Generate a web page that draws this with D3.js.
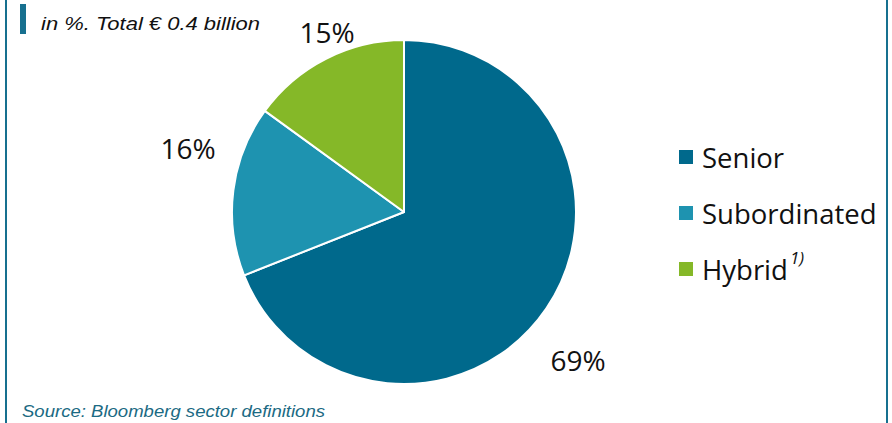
<!DOCTYPE html>
<html>
<head>
<meta charset="utf-8">
<script src="https://cdn.jsdelivr.net/npm/d3@7"></script>
<style>
  body { margin: 0; background: #fff; }
  svg { display: block; }
</style>
</head>
<body>
<svg id="chart" width="892" height="423"></svg>
<script>
var categories = ["Senior", "Subordinated", "Hybrid"];
var shares = [69, 16, 15];
var colors = ["#00698c", "#1e93b0", "#85b828"];
var labelPos = [[578, 360], [188, 148], [327, 32]]; // label anchors

var svg = d3.select("#chart"),
  width = 892,
  height = 423;

// frame lines
svg.append("rect").attr("x", 5).attr("y", 0).attr("width", 2).attr("height", height).attr("fill", "#17708f");
svg.append("rect").attr("x", 886).attr("y", 0).attr("width", 2).attr("height", height).attr("fill", "#17708f");
svg.append("rect").attr("x", 20).attr("y", 4).attr("width", 6).attr("height", 30).attr("fill", "#17708f");

svg.append("text")
  .attr("x", 41).attr("y", 30)
  .attr("textLength", 219)
  .attr("lengthAdjust", "spacingAndGlyphs")
  .style("font", "italic 18.5px 'Liberation Sans', Arial, sans-serif")
  .attr("fill", "#111")
  .text("in %. Total € 0.4 billion");

svg.append("text")
  .attr("x", 22).attr("y", 417)
  .attr("textLength", 303)
  .attr("lengthAdjust", "spacingAndGlyphs")
  .style("font", "italic 17px 'Liberation Sans', Arial, sans-serif")
  .attr("fill", "#1b6a83")
  .text("Source: Bloomberg sector definitions");

var cx = 404, cy = 212, r = 172;

var pie = d3.pie().sort(null).value(function(d) { return d; });
var arc = d3.arc().innerRadius(0).outerRadius(r);
var arcs = pie(shares);

var g = svg.append("g").attr("transform", "translate(" + cx + "," + cy + ")");
g.selectAll("path")
  .data(arcs)
  .enter().append("path")
  .attr("d", arc)
  .attr("fill", function(d, i) { return colors[i]; })
  .attr("stroke", "#fff")
  .attr("stroke-width", 2)
  .attr("stroke-linejoin", "round");

svg.selectAll("text.pct")
  .data(arcs)
  .enter().append("text")
  .attr("class", "pct")
  .attr("x", function(d, i) { return labelPos[i][0]; })
  .attr("y", function(d, i) { return labelPos[i][1]; })
  .attr("text-anchor", "middle")
  .attr("dominant-baseline", "central")
  .style("font", "28px 'Open Sans', 'Noto Sans', sans-serif")
  .attr("fill", "#111")
  .text(function(d) { return d.data + "%"; });

// legend
var legend = svg.append("g").attr("transform", "translate(679,157)");
var item = legend.selectAll("g")
  .data(categories)
  .enter().append("g")
  .attr("transform", function(d, i) { return "translate(0," + (i * 56) + ")"; });

item.append("rect")
  .attr("x", 0).attr("y", -7)
  .attr("width", 14).attr("height", 14)
  .attr("fill", function(d, i) { return colors[i]; });

item.append("text")
  .attr("x", 23).attr("y", 0)
  .attr("dominant-baseline", "central")
  .style("font", "27.5px 'Open Sans', 'Noto Sans', sans-serif")
  .attr("fill", "#111")
  .text(function(d) { return d; })
  .filter(function(d) { return d === "Hybrid"; })
  .append("tspan")
  .attr("dx", 2)
  .attr("dy", -12)
  .style("font", "italic 17px 'Open Sans', 'Noto Sans', sans-serif")
  .text("1)");
</script>
</body>
</html>
